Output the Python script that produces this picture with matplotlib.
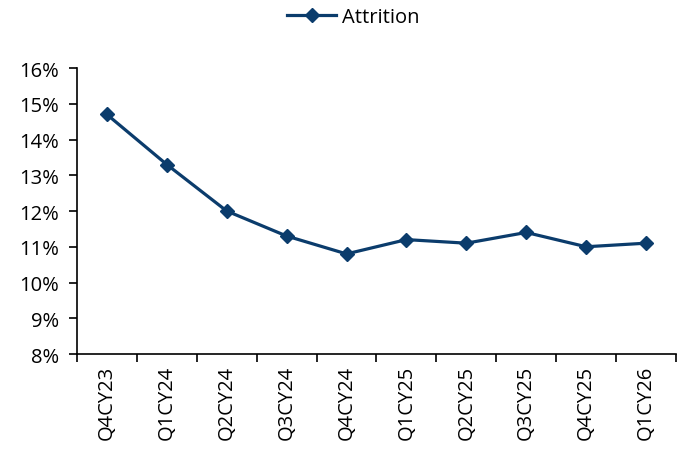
import matplotlib
matplotlib.use("Agg")
import matplotlib.pyplot as plt
from matplotlib.ticker import FuncFormatter, MultipleLocator

quarters = ["Q4CY23", "Q1CY24", "Q2CY24", "Q3CY24", "Q4CY24",
            "Q1CY25", "Q2CY25", "Q3CY25", "Q4CY25", "Q1CY26"]
attrition = [14.7, 13.3, 12.0, 11.3, 10.8, 11.2, 11.1, 11.4, 11.0, 11.1]

NAVY = "#0B3C6C"

plt.rcParams["font.family"] = ["Open Sans", "DejaVu Sans"]
plt.rcParams["font.size"] = 14.5

fig = plt.figure(figsize=(6.86, 4.52), dpi=100)
ax = fig.add_axes([0.1122, 0.2146, 0.8732, 0.6327])

x = range(len(quarters))
ax.plot(x, attrition, color=NAVY, linewidth=2.3, marker="D",
        markersize=7.5, label="Attrition")

ax.set_xlim(-0.5, len(quarters) - 0.5)
ax.set_ylim(8, 16)
ax.yaxis.set_major_locator(MultipleLocator(1))
ax.yaxis.set_major_formatter(FuncFormatter(lambda v, _: f"{v:.0f}%"))

# category labels centred, tick marks between categories
ax.set_xticks([i - 0.5 for i in range(len(quarters) + 1)])
ax.set_xticklabels([])
ax.set_xticks(list(x), minor=True)
ax.set_xticklabels(quarters, minor=True, rotation=90)
ax.tick_params(axis="x", which="minor", length=0, pad=8)
ax.tick_params(axis="x", which="major", length=6, width=1.2, direction="out")
ax.tick_params(axis="y", length=6, width=1.2, direction="out", pad=7)

for side in ("top", "right"):
    ax.spines[side].set_visible(False)
for side in ("left", "bottom"):
    ax.spines[side].set_linewidth(1.2)

fig.legend(loc="center", bbox_to_anchor=(0.515, 0.96), frameon=False,
           handlelength=2.4, handletextpad=0.3, fontsize=14.5)

fig.savefig("out.png", dpi=100)
